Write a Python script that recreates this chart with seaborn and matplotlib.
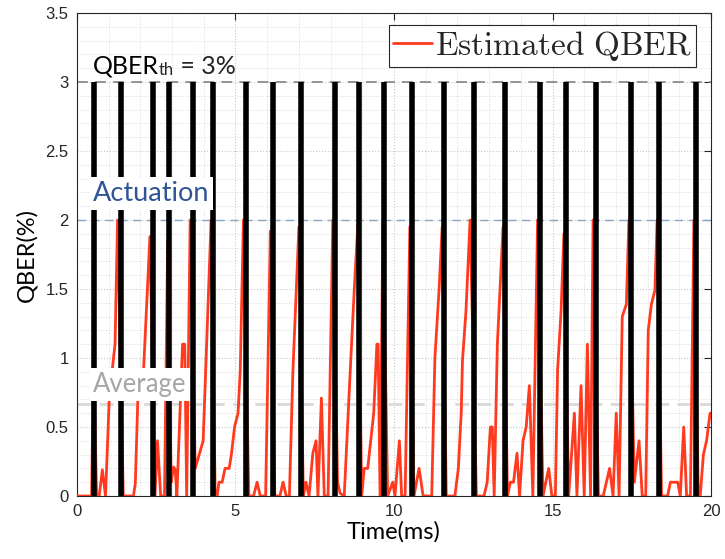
import numpy as np
import pandas as pd
import matplotlib
matplotlib.use("Agg")
import matplotlib.pyplot as plt
import seaborn as sns

# Actuation instants (ms) - black bars
actuation_times = [0.55, 1.38, 2.39, 2.90, 3.65, 4.30, 5.34, 6.18, 7.07, 8.15, 8.91,
                   9.69, 10.57, 11.59, 12.52, 13.50, 14.61, 15.43, 16.36, 17.49, 18.37, 19.52]

# Estimated QBER trace (time in ms, QBER in %)
time_ms = [0.0, 0.46, 0.52, 0.62, 0.70, 0.80, 0.90, 1.02, 1.20, 1.28,
           1.46, 1.78, 1.84, 1.92, 2.06, 2.30,
           2.46, 2.54, 2.64, 2.76, 2.86,
           2.97, 3.05, 3.10, 3.15, 3.33, 3.40, 3.46, 3.57,
           3.73, 3.98, 4.23,
           4.36, 4.42, 4.48, 4.58, 4.67, 4.80, 4.87, 4.97, 5.08, 5.15, 5.25,
           5.42, 5.57, 5.68, 5.78, 5.95, 6.10,
           6.24, 6.40, 6.50, 6.60, 6.70, 6.81, 7.00,
           7.14, 7.22, 7.32, 7.44, 7.54, 7.60, 7.71, 7.80, 7.92, 8.07,
           8.22, 8.30, 8.43, 8.62, 8.75, 8.86,
           8.98, 9.06, 9.17, 9.36, 9.46, 9.50, 9.56, 9.65,
           9.80, 9.96, 10.03, 10.17, 10.24, 10.35, 10.50,
           10.63, 10.79, 10.92, 11.19, 11.29, 11.42, 11.52,
           11.65, 11.92, 12.03, 12.12, 12.16, 12.27, 12.40,
           12.60, 12.84, 12.94, 13.04, 13.10, 13.16, 13.26, 13.44,
           13.58, 13.67, 13.77, 13.88, 13.96, 14.07, 14.17, 14.27, 14.38, 14.53,
           14.70, 14.88, 14.98, 15.09, 15.16, 15.27, 15.36,
           15.51, 15.69, 15.77, 15.90, 16.00, 16.10, 16.20, 16.28,
           16.45, 16.60, 16.80, 16.91, 17.01, 17.10, 17.20, 17.33, 17.41,
           17.58, 17.73, 17.83, 17.94, 18.02, 18.12, 18.23, 18.30,
           18.44, 18.63, 18.72, 18.95, 19.03, 19.14, 19.23, 19.35, 19.46,
           19.60, 19.66, 19.76, 19.86, 19.97, 20.0]
qber_pct = [0.0, 0.0, 0.95, 0.0, 0.0, 0.19, 0.0, 0.72, 1.10, 2.0,
            0.0, 0.0, 0.09, 0.71, 0.72, 1.88,
            0.0, 0.40, 0.0, 0.0, 1.85,
            0.10, 0.21, 0.19, 0.0, 1.10, 1.10, 0.0, 2.0,
            0.20, 0.40, 2.0,
            0.0, 0.0, 0.10, 0.10, 0.20, 0.20, 0.30, 0.50, 0.60, 0.91, 2.0,
            0.0, 0.0, 0.10, 0.0, 0.0, 1.92,
            0.0, 0.0, 0.10, 0.0, 0.0, 0.90, 1.95,
            0.0, 0.10, 0.0, 0.31, 0.40, 0.0, 0.71, 0.0, 0.0, 2.0,
            0.10, 0.02, 0.0, 0.91, 1.51, 1.97,
            0.0, 0.20, 0.20, 0.60, 1.10, 1.10, 0.0, 2.0,
            0.0, 0.10, 0.0, 0.40, 0.0, 0.0, 1.95,
            0.0, 0.20, 0.0, 0.0, 1.0, 1.49, 1.95,
            0.0, 0.0, 0.20, 0.60, 0.98, 1.34, 2.0,
            0.0, 0.0, 0.10, 0.50, 0.50, 0.0, 1.10, 1.95,
            0.0, 0.10, 0.10, 0.31, 0.0, 0.40, 0.50, 0.80, 0.0, 2.0,
            0.0, 0.20, 0.0, 0.0, 0.91, 1.34, 1.90,
            0.0, 0.60, 0.0, 0.80, 0.0, 1.10, 0.0, 2.0,
            0.0, 0.0, 0.20, 0.0, 0.60, 0.0, 1.30, 1.39, 2.0,
            0.10, 0.40, 0.0, 0.0, 1.20, 1.39, 1.49, 2.0,
            0.0, 0.0, 0.10, 0.10, 0.0, 0.50, 0.0, 0.0, 2.0,
            0.0, 0.0, 0.30, 0.40, 0.60, 0.60]

threshold = 3.0
actuation_level = 2.0
average_level = 0.67

x_ticks = [0, 5, 10, 15, 20]
y_ticks = [0, 0.5, 1, 1.5, 2, 2.5, 3, 3.5]

sns.set_style("white")
plt.rcParams['font.family'] = ['Lato', 'DejaVu Sans']

fig = plt.figure(figsize=(7.25, 5.59), dpi=100)
ax = fig.add_axes([0.1062, 0.1127, 0.8745, 0.864])

df = pd.DataFrame({"Time": time_ms, "QBER": qber_pct})
sns.lineplot(data=df, x="Time", y="QBER", ax=ax, sort=False, estimator=None,
             color="#ff3a1f", linewidth=2.0, label="$\\mathrm{Estimated\\ QBER}$", zorder=3)

ax.vlines(actuation_times, 0, threshold, colors="black", linewidth=4.0, zorder=4)

ax.axhline(threshold, color="#8c8c8c", linestyle=(0, (6, 4)), linewidth=1.3, zorder=2)
ax.axhline(actuation_level, color="#8aa5c4", linestyle=(0, (6, 4)), linewidth=1.0, zorder=2)
ax.axhline(average_level, color="#d9d9d9", linestyle=(0, (5, 3)), linewidth=2.0, zorder=2)

ax.set_xlim(0, 20)
ax.set_ylim(0, 3.5)
ax.set_xticks(x_ticks)
ax.set_yticks(y_ticks)
ax.set_xticklabels([str(v) for v in x_ticks], family="Liberation Sans", fontsize=12)
ax.set_yticklabels([("%g" % v) for v in y_ticks], family="Liberation Sans", fontsize=12)
ax.set_xticks(np.arange(0, 21, 1), minor=True)
ax.set_yticks(np.arange(0, 3.51, 0.1), minor=True)
ax.tick_params(which="major", direction="in", length=5, width=0.8, top=True, right=True,
               colors="#262626", pad=6)
ax.tick_params(which="minor", length=0, top=True, right=True)
ax.grid(True, which="major", linestyle=":", color="#c8c8c8", linewidth=0.8)
ax.grid(True, which="minor", linestyle=":", color="#dcdcdc", linewidth=0.7)
ax.set_axisbelow(True)
for s in ax.spines.values():
    s.set_color("#262626")
    s.set_linewidth(0.8)

ax.set_xlabel("Time(ms)", fontsize=17, labelpad=1, color="black")
ax.set_ylabel("QBER(%)", fontsize=17, labelpad=6, color="black")

# annotations
t1 = ax.text(0.5, 3.06, "QBER", fontsize=18, color="black", zorder=6)
t2 = ax.annotate("th", xy=(1, 0), xycoords=t1, fontsize=12, va="bottom", ha="left", zorder=6)
ax.annotate(" = 3%", xy=(1, 0), xycoords=t2, fontsize=18, va="bottom", ha="left", zorder=6)
ax.text(0.5, 2.19, "Actuation", fontsize=19.5, color="#2f5597", va="center", zorder=6,
        bbox=dict(facecolor="white", edgecolor="none", pad=3))
ax.text(0.5, 0.81, "Average", fontsize=18.5, color="#a6a6a6", va="center", zorder=6,
        bbox=dict(facecolor="white", edgecolor="none", pad=3))

leg = ax.legend(loc="upper right", bbox_to_anchor=(0.976, 0.975), borderaxespad=0,
                fontsize=24, frameon=True, fancybox=False, edgecolor="#262626",
                handlelength=1.15, handletextpad=0.1, borderpad=0.12, framealpha=1)
leg.get_frame().set_linewidth(0.8)
for t in leg.get_texts():
    t.set_math_fontfamily("cm")
leg.set_zorder(7)

fig.savefig("out.png", dpi=100)
